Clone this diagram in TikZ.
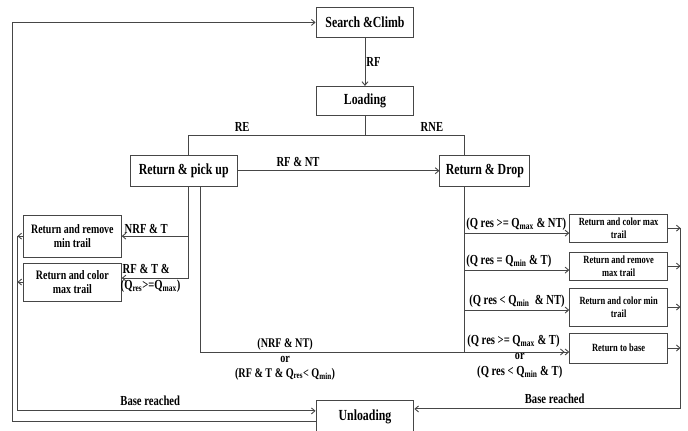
\documentclass[tikz,border=0pt]{standalone}
\usepackage{fontspec}
\setmainfont{Liberation Serif}[FakeStretch=0.77]
\usetikzlibrary{arrows.meta}
\definecolor{linec}{RGB}{70,70,70}
\begin{document}
\begin{tikzpicture}[x=1pt,y=-1pt,
  every path/.style={draw=linec, line width=0.9pt},
  box/.style={draw=linec, line width=0.9pt, fill=white, inner sep=1pt, align=center,
    font=\bfseries\fontsize{15.4}{16}\selectfont},
  lbox/.style={box, minimum width=98pt, font=\bfseries\fontsize{12.9}{14.5}\selectfont},
  rbox/.style={box, minimum width=98pt, font=\bfseries\fontsize{11}{12.5}\selectfont},
  arr/.style={-{Straight Barb[length=3.5pt,width=6pt]}},
  darr/.style={-{Straight Barb[length=3.5pt,width=6pt]Straight Barb[length=3.5pt,width=6pt]}},
  lab/.style={inner sep=0pt, font=\bfseries\fontsize{13.8}{15}\selectfont},
  slab/.style={inner sep=0pt, font=\bfseries\fontsize{13.2}{15}\selectfont}]
\useasboundingbox (0,0) rectangle (688,430);
\fill[white] (0,0) rectangle (688,430);

% main boxes
\node[box, minimum width=98pt, minimum height=30pt] (search) at (365,22) {Search \&Climb};
\node[box, minimum width=98pt, minimum height=29pt] (loading) at (365,100.5) {Loading};
\node[box, minimum width=107pt, minimum height=31pt] (pick) at (183.5,170.5) {Return \& pick up};
\node[box, minimum width=90pt, minimum height=31pt] (drop) at (485,170.5) {Return \& Drop};
\node[box, minimum width=98pt, minimum height=31pt] (unload) at (365,416.5) {Unloading};

% left boxes
\node[lbox, minimum height=42pt] (lb1) at (72,236) {Return and remove\\min trail};
\node[lbox, minimum height=38pt] (lb2) at (72,282) {Return and color\\max trail};

% right boxes
\node[rbox, minimum height=28pt] (rb1) at (619,228) {Return and color max\\trail};
\node[rbox, minimum height=28pt] (rb2) at (619,266) {Return and remove\\max trail};
\node[rbox, minimum height=38pt] (rb3) at (619,307) {Return and color min\\trail};
\node[rbox, minimum height=30pt] (rb4) at (619,348) {Return to base};

% coordinates
\coordinate (split) at (365,135);
\coordinate (reL) at (188,135);
\coordinate (reR) at (465,135);
\coordinate (b1) at (188,278);
\coordinate (b2) at (200,352);
\coordinate (dv) at (465,352);
\coordinate (a1) at (465,233);
\coordinate (a2) at (465,270);
\coordinate (a3) at (465,310);
\coordinate (lv) at (17,411);
\coordinate (lo) at (12,422);
\coordinate (lt) at (12,22);
\coordinate (rv) at (681,409);

% top part
\draw[arr] (search) -- (loading) node[midway, right=1pt, lab] {RF};
\draw (loading.south) -- (split);
\draw (reL |- pick.north) -- (reL) -- (reR) -- (reR |- drop.north);
\node[lab, anchor=south] (re) at (242,132) {RE};
\node[lab, anchor=south] (rne) at (432,132) {RNE};
\draw[arr] (pick.east) -- (drop.west);
\node[lab, anchor=south] (rfnt) at (298,167) {RF \& NT};

% left branch
\draw[arr] (b1 |- pick.south) -- (b1) -- (b1 -| lb2.east);
\draw[arr] (b1 |- lb1.east) -- (lb1.east);
\node[lab, anchor=south west] (nrft) at (124,234) {NRF \& T};
\node[lab, anchor=south west] (rft1) at (122,274) {RF \& T \&};
\node[lab, anchor=north west] (rft2) at (120,279) {(Q\textsubscript{res}>=Q\textsubscript{max})};

\draw[arr] (lb1.west) -- (lb1.west -| lv);
\draw[arr] (lb2.west) -- (lb2.west -| lv);
\draw[arr] (lv |- lb1.west) -- (lv) -- (lv -| unload.west);
\node[lab, anchor=south] (br1) at (150,406) {Base reached};

% outer loop
\draw[arr] ([yshift=-5.5pt]unload.west) -- (lo) -- (lt) -- (search.west);

% long bottom line
\draw[darr] (b2 |- pick.south) -- (b2) -- (b2 -| rb4.west);
\node[slab] (c1) at (285,344) {(NRF \& NT)};
\node[slab] (c2) at (285,359) {or};
\node[slab] (c3) at (285,374) {(RF \& T \& Q\textsubscript{res}< Q\textsubscript{min})};

% drop branches
\draw (drop.south -| dv) -- (dv);
\draw[arr] (a1) -- (a1 -| rb1.west);
\draw[arr] (a2) -- (a2 -| rb2.west);
\draw[arr] (a3) -- (a3 -| rb3.west);
\node[lab, anchor=south west] (q1) at (466,231) {(Q res >= Q\textsubscript{max} \& NT)};
\node[lab, anchor=south west] (q2) at (466,268) {(Q res = Q\textsubscript{min} \& T)};
\node[lab, anchor=south west] (q3) at (469,308) {(Q res < Q\textsubscript{min}\ \ \& NT)};
\node[lab, anchor=south west] (q4) at (467,348) {(Q res >= Q\textsubscript{max} \& T)};
\node[slab] (q5) at (520,356) {or};
\node[lab] (q6) at (520,372) {(Q res < Q\textsubscript{min} \& T)};

% right outputs
\draw[arr] (rb1.east) -- (rb1.east -| rv);
\draw[arr] (rb2.east) -- (rb2.east -| rv);
\draw[arr] (rb3.east) -- (rb3.east -| rv);
\draw[arr] (rb4.east) -- (rb4.east -| rv);
\draw[arr] (rv |- rb1.east) -- (rv) -- (rv -| unload.east);
\node[lab, anchor=south] (br2) at (555,404) {Base reached};
\end{tikzpicture}
\end{document}
